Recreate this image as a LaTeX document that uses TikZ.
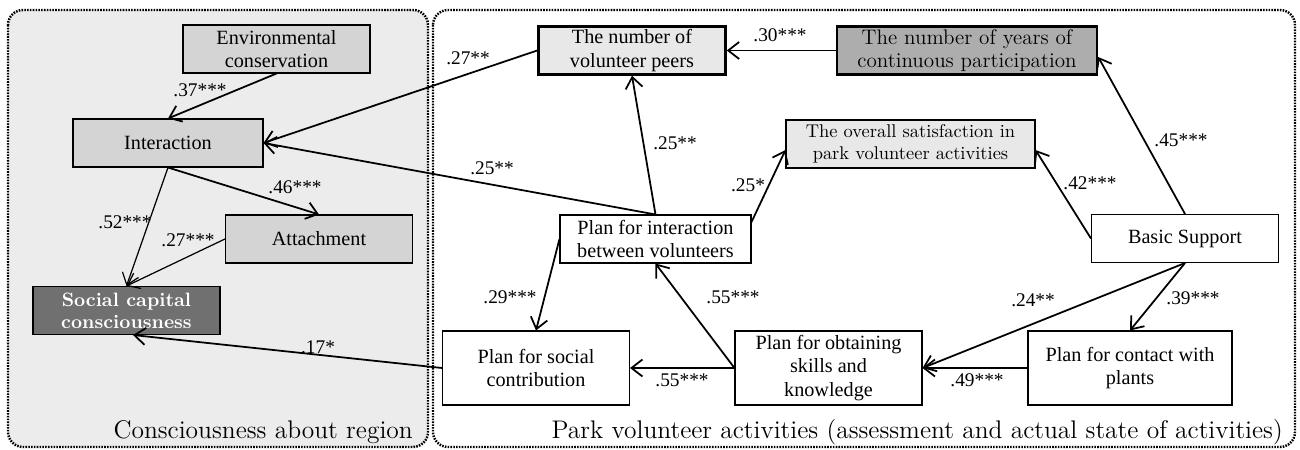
\documentclass[tikz,border=0pt]{standalone}
\usepackage{fontspec}
\setmainfont{Liberation Serif}
\newfontfamily\lmfont{Latin Modern Roman}
\newfontfamily\lmtitle{lmroman12-regular.otf}
\usetikzlibrary{arrows.meta}
\definecolor{panelgray}{gray}{0.925}
\definecolor{boxgray}{gray}{0.83}
\definecolor{lightbox}{gray}{0.91}
\definecolor{midbox}{gray}{0.68}
\definecolor{darkbox}{gray}{0.44}
\tikzset{
  panel/.style={dash pattern=on 0.9pt off 0.7pt, line width=1.4pt, rounded corners=3mm},
  box/.style={draw, line width=0.6pt, minimum width=37.4mm, minimum height=9.6mm,
    align=center, inner sep=1pt, font=\fontsize{11.5}{13.5}\selectfont},
  tallbox/.style={box, minimum height=14.8mm},
  boldbox/.style={box, line width=1.4pt},
  coef/.style={font=\fontsize{11}{13}\selectfont, inner sep=1pt},
  title/.style={anchor=base east, font=\lmtitle\fontsize{14.5}{16}\selectfont},
  link/.style={->, line width=1pt},
  thinlink/.style={->, line width=0.7pt},
  >={Straight Barb[length=2.2mm,width=3.4mm]}
}
\begin{document}
\begin{tikzpicture}[x=0.2mm, y=-0.2mm]
\useasboundingbox (0,0) rectangle (1300,450);
\draw[panel, fill=panelgray] (8,10) rectangle (428,447);
\draw[panel] (433,10) rectangle (1295,447);
\node[title] (regiontitle) at (419,439) {Consciousness about region};
\node[title] (parktitle) at (1289,439) {Park volunteer activities (assessment and actual state of activities)};

\node[box, fill=boxgray] (env) at (276.5,49) {Environmental\\conservation};
\node[box, fill=boxgray, minimum width=38mm] (inter) at (168,143) {Interaction};
\node[box, fill=boxgray] (attach) at (319,239) {Attachment};
\node[box, fill=darkbox, text=white, font=\lmfont\bfseries\fontsize{11}{12.5}\selectfont] (social) at (126.5,310.5) {Social capital\\consciousness};

\node[boldbox, fill=lightbox] (peers) at (632,50.5) {The number of\\volunteer peers};
\node[boldbox, fill=midbox, minimum width=52mm, font=\lmfont\fontsize{12}{13.5}\selectfont] (years) at (967,50.5) {The number of years of\\continuous participation};
\node[box, fill=lightbox, minimum width=49.8mm, font=\lmfont\fontsize{10.5}{12.5}\selectfont] (satis) at (910.5,144) {The overall satisfaction in\\park volunteer activities};
\node[box, fill=white, minimum width=38.2mm] (plinter) at (655.5,239) {Plan for interaction\\between volunteers};
\node[box, fill=white] (basic) at (1185,238.5) {Basic Support};
\node[tallbox, fill=white] (plsocial) at (536,368) {Plan for social\\contribution};
\node[tallbox, fill=white] (plskill) at (828.5,368) {Plan for obtaining\\skills and\\knowledge};
\node[tallbox, fill=white, minimum width=40.8mm] (plcontact) at (1130,368) {Plan for contact with\\plants};

\draw[link] (env.south) -- (inter.north);
\draw[link] (peers.west) -- (inter.east);
\draw[link] (plinter.north) -- (inter.east);
\draw[link] (plinter.north) -- (peers.south);
\draw[link] (years.west) -- (peers.east);
\draw[link] ([yshift=3.4mm]plinter.east) -- ([yshift=-1.2mm]satis.west);
\draw[link] (basic.west) -- ([yshift=-1.2mm]satis.east);
\draw[link] (basic.north) -- ([yshift=-1.3mm]years.east);
\draw[link] (basic.south) -- (plskill.east);
\draw[link] (basic.south) -- (plcontact.north);
\draw[link] (plcontact.west) -- (plskill.east);
\draw[link] (plskill.west) -- (plsocial.east);
\draw[link] (plskill.west) -- (plinter.south);
\draw[link] (plinter.west) -- (plsocial.north);
\draw[link] (inter.south) -- (attach.north);
\draw[thinlink] (inter.south) -- (social.north);
\draw[thinlink] (attach.west) -- (social.north);
\draw[link] (plsocial.west) -- ([xshift=1.3mm]social.south);

\node[coef] (c37) at (200,90) {.37***};
\node[coef] (c27a) at (468,58) {.27**};
\node[coef] (c25a) at (675,143) {.25**};
\node[coef] (c25b) at (492,168) {.25**};
\node[coef] (c30) at (780,35) {.30***};
\node[coef] (c25c) at (748,185) {.25*};
\node[coef] (c42) at (1090,183) {.42***};
\node[coef] (c45) at (1181,140) {.45***};
\node[coef] (c24) at (1033,300) {.24**};
\node[coef] (c39) at (1193,298) {.39***};
\node[coef] (c49) at (977,380) {.49***};
\node[coef] (c55a) at (682,380) {.55***};
\node[coef] (c55b) at (733,297) {.55***};
\node[coef] (c29) at (510,297) {.29***};
\node[coef] (c46) at (295,187) {.46***};
\node[coef] (c52) at (125,222) {.52***};
\node[coef] (c27b) at (188,240) {.27***};
\node[coef] (c17) at (318,347) {.17*};
\end{tikzpicture}
\end{document}
